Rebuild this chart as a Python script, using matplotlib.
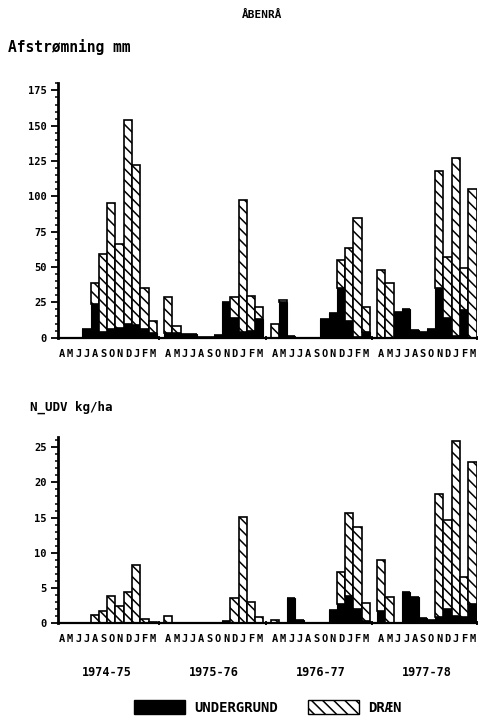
import matplotlib
matplotlib.use("Agg")
import matplotlib.pyplot as plt
import matplotlib.transforms as mtransforms
from matplotlib.patches import Patch
from matplotlib.ticker import MultipleLocator, FixedLocator


# =========================================================
# DATA
# =========================================================

MONTHS = list("AMJJASONDJFM")
SEASONS = ["1974-75", "1975-76", "1976-77", "1977-78"]

# Afstrømning mm, april -> march, four seasons
AFS_UNDERGRUND = [
    0, 0, 0, 6, 24, 4, 6, 7, 10, 9, 6, 3,
    3, 3, 2.8, 2.3, 0.5, 0.5, 2, 25, 14, 4, 5, 13,
    0, 25.5, 1, 0, 0, 0, 13.4, 17.6, 35, 11.5, 0.5, 4,
    0, 0, 18.3, 20, 5.7, 3.8, 6.3, 35.3, 14.1, 1, 19.5, 0,
]
AFS_DRAEN = [
    0, 0, 0, 0, 15, 55, 89, 59, 144, 113, 29, 9,
    26, 5, 0, 0, 0, 0, 0, 0, 14.7, 93.6, 24.4, 8.9,
    10, 1.5, 0, 0, 0, 0, 0, 0, 20, 52, 84.5, 17.7,
    48.2, 38.7, 0, 0, 0, 0, 0, 82.7, 42.9, 126, 30, 105,
]

# N_UDV kg/ha
N_UNDERGRUND = [
    0, 0, 0, 0, 0, 0, 0, 0, 0, 0, 0, 0,
    0, 0, 0, 0, 0, 0, 0, 0.3, 0, 0, 0, 0,
    0, 0.1, 3.6, 0.5, 0, 0, 0, 1.9, 2.8, 3.9, 2.1, 0.3,
    1.8, 0, 0, 4.4, 3.8, 0.8, 0.4, 0.9, 2.0, 1.1, 0.9, 2.8,
]
N_DRAEN = [
    0, 0, 0, 0, 1.2, 1.8, 3.9, 2.4, 4.4, 8.3, 0.6, 0.25,
    1.05, 0, 0, 0, 0, 0, 0, 0, 3.6, 15.1, 3.0, 0.95,
    0.5, 0, 0, 0, 0, 0, 0, 0, 4.5, 11.8, 11.6, 2.6,
    7.2, 3.7, 0, 0, 0, 0, 0, 17.4, 12.6, 24.8, 5.7, 20.1,
]


# =========================================================
# LAYOUT
# =========================================================

YEAR_STEP = 12.87
X_MAX = 3 * YEAR_STEP + 12.05
HATCH = "\\" * 3
MONO = "DejaVu Sans Mono"

plt.rcParams["hatch.linewidth"] = 1.1
plt.rcParams["font.family"] = MONO
plt.rcParams["font.weight"] = "bold"


def bar_positions():
    return [s * YEAR_STEP + m + 0.5 for s in range(len(SEASONS)) for m in range(12)]


def style_axis(ax, ymax, major, minor):
    xs = bar_positions()
    ax.set_xlim(0, X_MAX)
    ax.set_ylim(0, ymax)
    for side in ("top", "right"):
        ax.spines[side].set_visible(False)
    ax.spines["left"].set_linewidth(2.0)
    ax.spines["bottom"].set_linewidth(1.6)

    # month letters sit under each bar, year separators are minor ticks
    ax.xaxis.set_major_locator(FixedLocator(xs))
    ax.set_xticklabels(MONTHS * len(SEASONS), fontsize=7.5, fontweight="bold")
    ax.tick_params(axis="x", which="major", length=0, pad=8)
    seps = [s * YEAR_STEP - 0.6 for s in range(1, len(SEASONS))] + [X_MAX - 0.05]
    ax.xaxis.set_minor_locator(FixedLocator(seps))
    ax.tick_params(axis="x", which="minor", length=3.5, width=1.3, direction="inout")

    ax.yaxis.set_major_locator(MultipleLocator(major))
    ax.yaxis.set_minor_locator(MultipleLocator(minor))
    ax.tick_params(axis="y", which="major", length=5, width=1.3, pad=3,
                   labelsize=7.5)
    ax.tick_params(axis="y", which="minor", length=2.5, width=1.1)
    for lab in ax.get_yticklabels():
        lab.set_fontweight("bold")


def draw_bars(ax, under, drain):
    xs = bar_positions()
    ax.bar(xs, under, width=1.0, color="black", edgecolor="black",
           linewidth=0.8, zorder=2)
    ax.bar(xs, drain, width=1.0, bottom=under, facecolor="white",
           edgecolor="black", hatch=HATCH, linewidth=1.2, zorder=2)


fig = plt.figure(figsize=(4.78, 7.18), dpi=100)

ax_top = fig.add_axes([0.1203, 0.5297, 0.8776, 0.3552])
draw_bars(ax_top, AFS_UNDERGRUND, AFS_DRAEN)
style_axis(ax_top, 180.5, 25, 5)

ax_bot = fig.add_axes([0.1203, 0.1319, 0.8776, 0.2595])
draw_bars(ax_bot, N_UNDERGRUND, N_DRAEN)
style_axis(ax_bot, 26.45, 5, 1)

# season labels under the lower panel
trans = mtransforms.blended_transform_factory(ax_bot.transData, ax_bot.transAxes)
for s, label in enumerate(SEASONS):
    ax_bot.text(s * YEAR_STEP + 6, -0.263, label, transform=trans,
                ha="center", va="center", fontsize=8.5, fontweight="bold")

fig.text(0.548, 0.979, "ÅBENRÅ", ha="center", va="center",
         fontsize=8, fontweight="bold")
fig.text(0.017, 0.9345, "Afstrømning mm", ha="left", va="center",
         fontsize=10.5, fontweight="bold")
fig.text(0.063, 0.4331, "N_UDV kg/ha", ha="left", va="center",
         fontsize=9, fontweight="bold")

handles = [
    Patch(facecolor="black", edgecolor="black", label="UNDERGRUND"),
    Patch(facecolor="white", edgecolor="black", hatch=HATCH, label="DRÆN"),
]
fig.legend(handles=handles, loc="center", bbox_to_anchor=(0.56, 0.015),
           ncol=2, frameon=False, handlelength=3.7, handleheight=1.15,
           columnspacing=2.15, handletextpad=0.65,
           prop={"family": MONO, "weight": "bold", "size": 10})

fig.savefig("out.png", dpi=100)
